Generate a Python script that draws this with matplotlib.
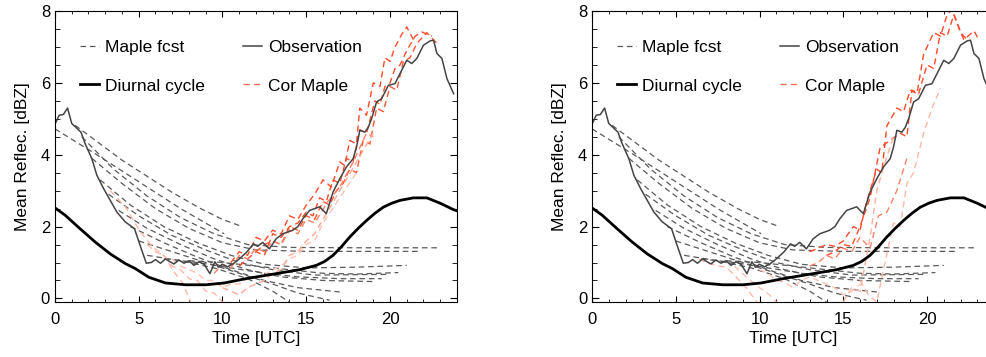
import numpy as np
import matplotlib
matplotlib.use("Agg")
import matplotlib.pyplot as plt

plt.rcParams['font.family'] = ['Liberation Sans', 'DejaVu Sans']

# observation (same in both panels)
obs_t = [0, 0.25, 0.5, 0.75, 1.0, 1.3, 1.55, 1.8, 2.2, 2.5, 2.9, 3.3, 3.7, 4.2, 4.75, 5.05,
         5.45, 5.75, 6.0, 6.3, 6.6, 6.8, 7.1, 7.4, 7.7, 8.0, 8.3, 8.6, 8.9, 9.25, 9.55, 9.75,
         10.0, 10.3, 10.65, 11.0, 11.45, 11.85, 12.1, 12.4, 12.8, 13.2, 13.6, 14.2, 14.5, 14.8,
         15.2, 15.5, 15.8, 16.2, 16.6, 17.0, 17.4, 17.8, 18.0, 18.2, 18.5, 18.7, 18.9, 19.2,
         19.5, 19.9, 20.3, 20.6, 21.0, 21.3, 21.6, 22.0, 22.4, 22.6, 22.8, 23.1, 23.4, 23.8]
obs_v = [4.85, 5.1, 5.12, 5.3, 4.87, 4.74, 4.63, 4.31, 3.89, 3.43, 3.06, 2.73, 2.4, 2.13, 1.94, 1.52,
         0.98, 1.0, 1.08, 0.98, 1.1, 1.04, 0.96, 1.07, 0.98, 1.05, 0.92, 1.02, 0.95, 0.69, 1.02, 0.87,
         0.95, 0.88, 0.97, 1.1, 1.29, 1.52, 1.45, 1.56, 1.38, 1.66, 1.8, 1.9, 2.0, 2.22,
         2.45, 2.5, 2.55, 2.36, 2.96, 3.33, 3.66, 3.89, 4.21, 4.68, 4.63, 4.76, 5.0, 5.47,
         5.56, 5.93, 5.98, 6.26, 6.63, 6.54, 6.68, 7.05, 7.17, 7.19, 6.82, 6.68, 6.12, 5.70]

# diurnal cycle
diu_t = [0, 0.6, 1.5, 2.4, 3.3, 4.2, 4.8, 5.6, 6.6, 7.8, 9.0, 10.1, 11.4, 13.2, 14.6, 15.6,
         16.1, 16.6, 17.1, 17.6, 18.1, 18.6, 19.1, 19.6, 20.1, 20.6, 21.4, 22.2, 23.0, 23.8, 24]
diu_v = [2.52, 2.32, 1.94, 1.57, 1.24, 0.97, 0.83, 0.59, 0.43, 0.38, 0.38, 0.43, 0.55, 0.69, 0.8, 0.92,
         1.03, 1.2, 1.44, 1.71, 1.95, 2.17, 2.37, 2.54, 2.65, 2.73, 2.8, 2.8, 2.65, 2.47, 2.44]

# Maple forecasts (same in both panels)
maple_t = [
    [0, 2.5, 5, 7.5, 10.1],
    [1.2, 4, 7, 8.7, 10, 11.0],
    [1.6, 3.5, 5.5, 7.5, 9.5, 11.5, 14, 18, 22.8],
    [2.2, 4, 6, 8, 10, 12, 15, 18, 21.8],
    [2.7, 4.5, 6.5, 8.5, 10.5, 12.5, 15, 18, 21.0],
    [3.2, 5, 7, 9, 11, 13, 15.5, 20.0],
    [3.8, 5.5, 7.5, 9.5, 11.5, 13.5, 16, 19.0],
    [4.5, 6.5, 8.5, 10.5, 12.5, 14.5, 17.0],
    [5.0, 7, 9, 11, 13, 14.5, 16.4],
    [5.5, 7.5, 9.5, 11.5, 13.0, 14.0],
    [6.5, 8.5, 10.5, 12.5, 14.5, 17, 19.5],
    [8.0, 10, 12, 14, 16, 18, 20.5],
]
maple_v = [
    [4.72, 4.0, 3.25, 2.5, 1.8],
    [4.82, 3.85, 2.95, 2.5, 2.2, 2.03],
    [4.5, 3.6, 2.85, 2.25, 1.8, 1.5, 1.42, 1.41, 1.41],
    [3.9, 3.2, 2.5, 1.95, 1.55, 1.35, 1.31, 1.31, 1.31],
    [3.3, 2.6, 2.0, 1.55, 1.2, 0.95, 0.85, 0.87, 0.92],
    [2.9, 2.3, 1.75, 1.35, 1.0, 0.8, 0.65, 0.67],
    [2.45, 1.95, 1.5, 1.1, 0.8, 0.6, 0.5, 0.47],
    [2.0, 1.55, 1.15, 0.8, 0.5, 0.3, 0.18],
    [1.6, 1.3, 1.0, 0.7, 0.4, 0.15, -0.05],
    [1.2, 1.05, 0.85, 0.55, 0.2, -0.1],
    [1.1, 1.0, 0.85, 0.7, 0.6, 0.55, 0.55],
    [1.05, 1.0, 0.9, 0.8, 0.7, 0.68, 0.72],
]

# corrected Maple, left panel
corL_t = [
    [10.5, 11.0, 11.5, 12, 12.5, 13, 13.5, 14, 14.5, 15, 15.5, 16, 16.5, 17, 17.3, 17.6,
     18.0, 18.2, 18.6, 19.0, 19.4, 19.7, 20.0, 20.3, 20.7, 21.0, 21.4],
    [11, 11.5, 12, 12.5, 13, 13.5, 14, 14.5, 15, 15.4, 15.8, 16.2, 16.6, 17.0, 17.4, 17.8,
     18.2, 18.6, 19.1, 19.4, 19.7, 20.0, 20.3, 20.6, 21.0, 21.5, 21.9, 22.5],
    [12, 12.5, 13, 13.5, 14, 14.5, 15, 15.5, 16, 16.4, 16.8, 17.2, 17.6, 18.0, 18.4, 18.8,
     19.2, 19.6, 20.0, 20.4, 20.8, 21.2, 21.6, 22.2, 22.8],
    [9.5, 10, 10.5, 11, 11.5, 12, 12.5, 13, 13.5, 14, 14.5, 15, 15.5, 16.3, 17.0, 17.8, 18.6, 19.0],
    [3.3, 4.2, 5.1, 5.8, 6.6, 7.0, 7.6, 8.1],
    [5.5, 6.0, 6.5, 7.0, 7.5, 8.0, 8.5, 9.0, 9.5, 10.2],
    [7, 7.5, 8, 8.5, 9, 9.5, 10, 10.5, 11, 11.5, 12, 12.5, 13, 13.5, 14, 14.5, 15, 15.5, 16, 17, 18],
    [10, 10.5, 11, 11.5, 12, 12.5, 13, 13.5, 14, 14.5, 15, 15.5, 16, 17, 18, 19],
]
corL_v = [
    [1.0, 1.3, 1.2, 1.7, 1.6, 1.9, 1.8, 2.3, 2.2, 2.6, 2.9, 3.3, 3.1, 3.8, 3.7, 4.4,
     4.3, 5.3, 5.1, 6.0, 5.9, 6.7, 6.6, 7.0, 7.35, 7.56, 7.2],
    [0.9, 1.1, 1.3, 1.2, 1.8, 1.7, 2.0, 2.1, 2.4, 2.3, 2.8, 2.7, 3.3, 3.2, 3.9, 3.8,
     4.7, 4.6, 5.5, 5.4, 5.9, 6.0, 6.4, 6.5, 6.9, 7.3, 7.42, 7.3],
    [1.3, 1.5, 1.6, 1.5, 2.0, 1.9, 2.3, 2.2, 2.7, 2.6, 3.0, 3.2, 3.6, 3.5, 4.4, 4.3,
     5.3, 5.2, 5.9, 5.8, 6.6, 6.7, 7.1, 7.4, 7.1],
    [0.7, 0.95, 0.85, 1.2, 1.1, 1.4, 1.3, 1.6, 1.5, 1.9, 1.8, 2.2, 2.1, 2.7, 3.1, 3.8, 4.6, 4.5],
    [3.0, 2.55, 1.85, 1.45, 1.15, 0.8, 0.45, -0.1],
    [1.5, 1.3, 1.2, 0.9, 0.8, 0.55, 0.5, 0.2, 0.15, -0.2],
    [1.1, 0.9, 0.8, 0.7, 0.5, 0.5, 0.3, 0.4, 0.4, 0.55, 0.6, 0.65, 0.8, 0.9, 1.1, 1.2,
     1.5, 1.6, 2.1, 2.8, 3.5],
    [0.3, 0.2, 0.1, 0.3, 0.4, 0.5, 0.7, 0.8, 1.2, 1.3, 1.6, 1.8, 2.2, 3.0, 3.8, 4.6],
]

# corrected Maple, right panel
corR_t = [
    [13, 13.5, 14, 14.5, 15, 15.6, 16.0, 16.4, 17.0, 17.3, 17.6, 18.2, 18.6, 19.0, 19.4,
     19.8, 20.4, 20.8, 21.2, 21.5, 22.0, 22.4],
    [14, 14.5, 15, 15.5, 16, 16.6, 17.2, 17.8, 18.4, 18.8, 19.1, 19.5, 20.0, 20.4, 20.8,
     21.2, 21.6, 22.2, 22.8, 23.1],
    [13, 13.5, 14, 14.5, 15, 15.5, 16, 16.6, 17.1, 17.6, 18.2, 18.8],
    [15, 15.5, 16, 16.6, 17.0, 17.5, 18.0],
    [16.0, 16.5, 17.0, 17.4, 18.0, 18.4, 18.8, 19.2, 19.8, 20.3, 20.8],
    [6.4, 6.8, 7.2, 7.6, 8.0, 8.4, 8.8, 9.2, 9.6, 10.0],
    [8.5, 9.2, 10.0, 10.6, 11.2],
    [10, 10.5, 11, 11.5, 12, 12.5, 13, 13.5, 14, 14.5, 15, 15.5, 16],
]
corR_v = [
    [1.3, 1.4, 1.5, 1.45, 1.6, 2.0, 1.9, 2.7, 3.6, 3.5, 4.8, 5.3, 5.2, 5.8, 5.7,
     6.8, 7.4, 7.3, 7.9, 8.05, 7.4, 7.2],
    [1.2, 1.3, 1.5, 1.45, 2.0, 2.8, 4.2, 4.4, 4.6, 4.5, 5.8, 5.7, 6.5, 6.4, 7.4,
     7.3, 7.9, 7.2, 7.45, 7.2],
    [0.9, 1.0, 1.2, 1.1, 1.4, 1.3, 1.7, 1.4, 2.3, 2.4, 3.0, 3.9],
    [-0.1, 0.3, 0.2, 1.7, 3.0, 3.8, 4.5],
    [0.5, 0.1, -0.1, 0.8, 2.1, 2.0, 3.2, 3.5, 4.6, 5.3, 5.85],
    [1.1, 1.0, 0.95, 0.9, 0.87, 0.7, 0.5, 0.3, 0.05, -0.2],
    [0.9, 0.6, 0.3, 0.1, -0.2],
    [0.8, 0.7, 0.5, 0.45, 0.3, 0.5, 0.6, 0.5, 0.4, 0.3, 0.1, 0.2, 0.4],
]

cor_colors_L = ['#ff4a2a', '#ff4a2a', '#ff5533', '#ff8066',
                '#ffb8a8', '#ffb8a8', '#ffc2b4', '#ffa894']
cor_colors_R = ['#ff4a2a', '#ff4a2a', '#ff8066', '#ffb0a0',
                '#ffb8a8', '#ffb8a8', '#ffc2b4', '#ffc2b4']

fig = plt.figure(figsize=(9.87, 3.57), dpi=100)
ax1 = fig.add_axes([0.0557, 0.154, 0.4073, 0.815])
ax2 = fig.add_axes([0.5998, 0.154, 0.4073, 0.815])

dash = (4.5, 3)
for ax, cor_t, cor_v, cols in [(ax1, corL_t, corL_v, cor_colors_L),
                               (ax2, corR_t, corR_v, cor_colors_R)]:
    for t, v in zip(maple_t, maple_v):
        ax.plot(t, v, color='#5a5a5a', lw=0.9, dashes=dash)
    for t, v, c in zip(cor_t, cor_v, cols):
        ax.plot(t, v, color=c, lw=1.0, dashes=dash)
    ax.plot(diu_t, diu_v, color='black', lw=2.0)
    ax.plot(obs_t, obs_v, color='#444444', lw=1.1)

    h1, = ax.plot([], [], color='#5a5a5a', lw=0.9, dashes=dash)
    h2, = ax.plot([], [], color='black', lw=2.0)
    h3, = ax.plot([], [], color='#444444', lw=1.1)
    h4, = ax.plot([], [], color='#ff6f55', lw=1.0, dashes=dash)
    ax.legend([h1, h2, h3, h4], ['Maple fcst', 'Diurnal cycle', 'Observation', 'Cor Maple'],
              ncol=2, frameon=False, loc='upper left', bbox_to_anchor=(0.045, 0.925),
              fontsize=12.5, handlelength=1.1, handletextpad=0.35, columnspacing=2.2,
              labelspacing=1.35, borderaxespad=0)

    ax.set_xlim(0, 24)
    ax.set_ylim(-0.1, 8)
    ax.set_xticks([0, 5, 10, 15, 20])
    ax.set_xticks(np.arange(0, 25, 1), minor=True)
    ax.set_yticks([0, 2, 4, 6, 8])
    ax.set_yticks(np.arange(0, 8.01, 0.5), minor=True)
    ax.tick_params(which='both', direction='in', top=True, right=True, labelsize=12)
    ax.tick_params(axis='y', which='major', length=5)
    ax.tick_params(axis='y', which='minor', length=3.5)
    ax.tick_params(axis='x', which='major', length=4, pad=7)
    ax.tick_params(axis='x', which='minor', length=2.5)
    ax.set_xlabel('Time [UTC]', fontsize=12.5, labelpad=3)
    ax.set_ylabel('Mean Reflec. [dBZ]', fontsize=12.5, labelpad=8)

fig.savefig('out.png', dpi=100)
